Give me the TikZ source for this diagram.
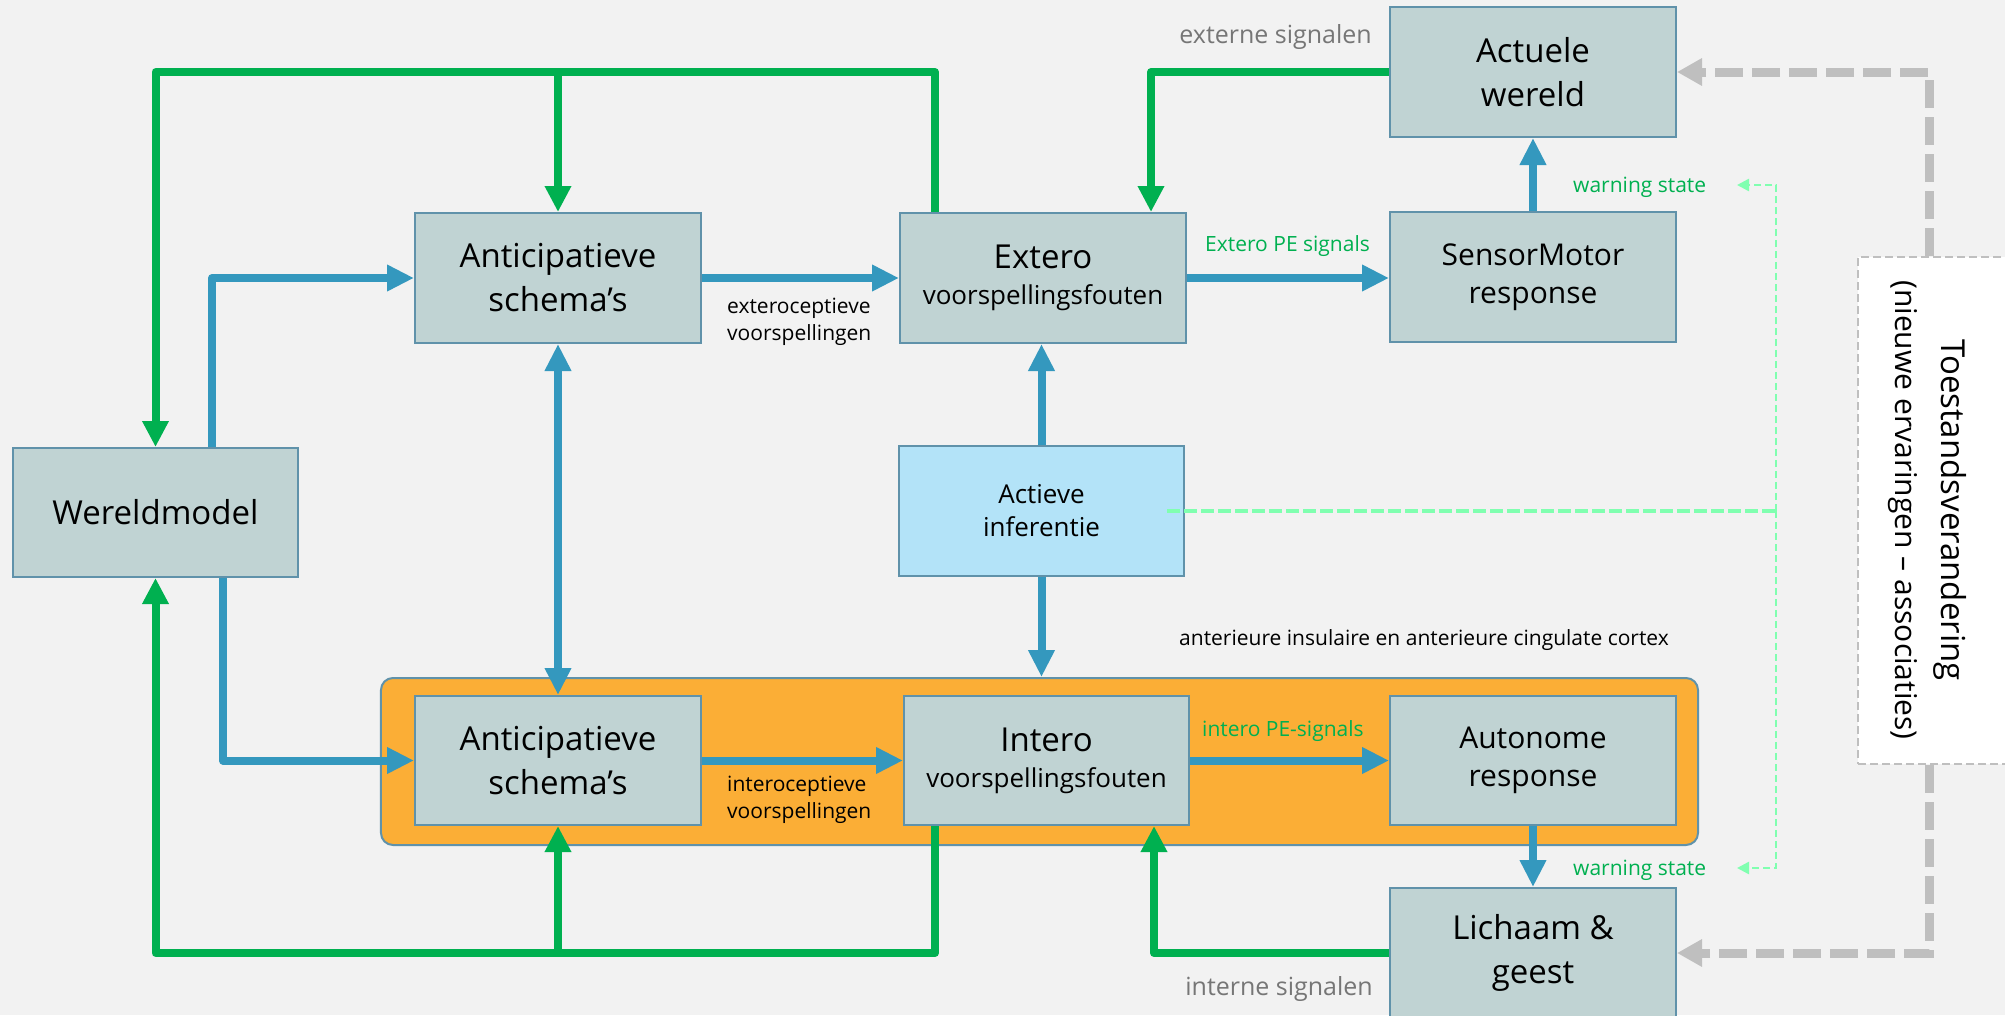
\documentclass[tikz,border=0pt]{standalone}
\usepackage{fontspec}
\setmainfont{Open Sans}
\usetikzlibrary{arrows.meta,calc}

\definecolor{cBg}{RGB}{242,242,242}
\definecolor{cBoxFill}{RGB}{192,211,211}
\definecolor{cBoxLine}{RGB}{96,146,170}
\definecolor{cAiFill}{RGB}{179,227,248}
\definecolor{cOrange}{RGB}{251,174,54}
\definecolor{cGreen}{RGB}{0,176,80}
\definecolor{cBlue}{RGB}{52,152,190}
\definecolor{cGrayLine}{RGB}{191,191,191}
\definecolor{cLightGreen}{RGB}{128,255,176}
\definecolor{cGrayText}{RGB}{118,118,118}

\newcommand{\FBig}{\fontsize{33bp}{44bp}\selectfont}
\newcommand{\FMid}{\fontsize{30bp}{38bp}\selectfont}
\newcommand{\FErr}{\fontsize{26bp}{36bp}\selectfont}
\newcommand{\FAi}{\fontsize{26bp}{33bp}\selectfont}
\newcommand{\FLab}{\fontsize{21bp}{27bp}\selectfont}
\newcommand{\FSig}{\fontsize{25bp}{30bp}\selectfont}
\newcommand{\FToe}{\fontsize{30bp}{46bp}\selectfont}
\newcommand{\FToeBig}{\fontsize{33bp}{46bp}\selectfont}

\begin{document}
\begin{tikzpicture}[x=1bp,y=-1bp,
  box/.style={draw=cBoxLine, line width=2bp, fill=cBoxFill, minimum width=286bp,
    minimum height=130bp, inner sep=0pt, align=center, text=black},
  greenline/.style={draw=cGreen, line width=8bp, line join=round},
  blueline/.style={draw=cBlue, line width=8bp, line join=round},
  grayline/.style={draw=cGrayLine, line width=9bp, dash pattern=on 28bp off 9bp},
  lgthick/.style={draw=cLightGreen, line width=4bp, dash pattern=on 13bp off 4bp},
  lgthin/.style={draw=cLightGreen, line width=2.5bp, dash pattern=on 7bp off 4bp},
  gtip/.style={-{Triangle[length=26bp,width=25bp]}},
  btip/.style={-{Triangle[length=27bp,width=25bp]}},
  bbtip/.style={{Triangle[length=27bp,width=25bp]}-{Triangle[length=27bp,width=25bp]}},
  graytip/.style={-{Triangle[length=25bp,width=26bp]}},
  lgtip/.style={-{Triangle[length=12bp,width=12bp]}},
  lab/.style={font=\FLab, inner sep=0pt},
]
\path[use as bounding box, fill=cBg] (0,0) rectangle (2005,1015);
\clip (0,0) rectangle (2005,1015);

% orange region
\node[draw=cBoxLine, line width=2bp, fill=cOrange, rounded corners=12bp,
  minimum width=1317bp, minimum height=167bp, inner sep=0pt] (OR) at (1039.5,761.5) {};

% state change box
\node[draw=cGrayLine, line width=2bp, dash pattern=on 8bp off 4bp, fill=white,
  minimum width=172bp, minimum height=507bp, inner sep=0pt] (T) at (1944,510.5) {};
\node[rotate=-90, align=center, font=\FToe, inner sep=0pt] (Ttext) at (1927,510)
  {{\FToeBig Toestandsverandering}\\(nieuwe ervaringen – associaties)};

% boxes
\node[box, minimum width=285bp, minimum height=129bp, font=\FBig] (W) at (155.5,512.5) {Wereldmodel};
\node[box, font=\FBig] (A1) at (558,278) {Anticipatieve\\schema’s};
\node[box, font=\FErr] (E) at (1043,278) {{\FBig Extero}\\voorspellingsfouten};
\node[box, font=\FBig] (AW) at (1533,72) {Actuele\\wereld};
\node[box, font=\FMid] (SM) at (1533,277) {SensorMotor\\response};
\node[box, fill=cAiFill, minimum width=285bp, font=\FAi] (AI) at (1041.5,511) {Actieve\\inferentie};
\node[box, minimum height=129bp, font=\FBig] (A2) at (558,760.5) {Anticipatieve\\schema’s};
\node[box, minimum width=285bp, minimum height=129bp, font=\FErr] (I) at (1046.5,760.5) {{\FBig Intero}\\voorspellingsfouten};
\node[box, minimum height=129bp, font=\FMid] (AR) at (1533,760.5) {Autonome\\response};
\node[box, font=\FBig] (L) at (1533,953) {Lichaam \&\\geest};

% labels
\node[lab, font=\FSig, text=cGrayText, anchor=base east] (lext) at (1372,43) {externe signalen};
\node[lab, text=cGreen, anchor=base west] (lepe) at (1205,251) {Extero PE signals};
\node[lab, text=cGreen, anchor=base west] (ws1) at (1573,192) {warning state};
\node[lab, anchor=base west] (lexa) at (727,313) {exteroceptieve};
\node[lab, anchor=base west] (lexb) at (727,340) {voorspellingen};
\node[lab, anchor=base west] (lina) at (727,791) {interoceptieve};
\node[lab, anchor=base west] (linb) at (727,818) {voorspellingen};
\node[lab, text=cGreen, anchor=base west] (lipe) at (1202,736) {intero PE-signals};
\node[lab, anchor=base west] (lacc) at (1179,645) {anterieure insulaire en anterieure cingulate cortex};
\node[lab, text=cGreen, anchor=base west] (ws2) at (1573,875) {warning state};
\node[lab, font=\FSig, text=cGrayText, anchor=base east] (lint) at (1373,995) {interne signalen};

% coordinates
\coordinate (topbar) at (0,72);
\coordinate (botbar) at (0,953);
\coordinate (eOut) at ([xshift=36bp]E.north west);
\coordinate (eIn) at ([xshift=252bp]E.north west);
\coordinate (iOut) at ([xshift=32bp]I.south west);
\coordinate (iIn) at ([xshift=251bp]I.south west);
\coordinate (wUp) at ([xshift=200bp]W.north west);
\coordinate (wDown) at ([xshift=211bp]W.south west);
\coordinate (tUp) at ([xshift=72bp]T.north west);
\coordinate (tDown) at ([xshift=72bp]T.south west);
\coordinate (lgStart) at ([xshift=-18bp]AI.east);
\coordinate (lgMid) at (1776,511);
\coordinate (ws1tip) at (1737,185);
\coordinate (ws2tip) at (1737,868);

% green connectors
\draw[greenline, gtip] (eOut) |- (topbar -| W.north) -- (W.north);
\draw[greenline, gtip] (topbar -| A1.north) -- (A1.north);
\draw[greenline, gtip] (AW.west) -| (eIn);
\draw[greenline, gtip] (iOut) |- (botbar -| W.south) -- (W.south);
\draw[greenline, gtip] (botbar -| A2.south) -- (A2.south);
\draw[greenline, gtip] (L.west) -| (iIn);

% blue connectors
\draw[blueline, btip] (wUp) |- (A1.west);
\draw[blueline, btip] (wDown) |- (A2.west);
\draw[blueline, btip] (A1.east) -- (E.west);
\draw[blueline, btip] (E.east) -- (E.east -| SM.west);
\draw[blueline, btip] (SM.north) -- (AW.south);
\draw[blueline, bbtip] (A1.south) -- (A2.north);
\draw[blueline, btip] (AI.north) -- (AI.north |- E.south);
\draw[blueline, btip] (AI.south) -- (AI.south |- OR.north);
\draw[blueline, btip] (A2.east) -- (I.west);
\draw[blueline, btip] (I.east) -- (I.east -| AR.west);
\draw[blueline, btip] (AR.south) -- (L.north);

% gray dashed connectors
\draw[grayline, graytip] (tUp) |- (AW.east);
\draw[grayline, graytip] (tDown) |- (L.east);

% light green dashed
\draw[lgthick] (lgStart) -- (lgMid);
\draw[lgthin, lgtip] (lgMid) |- (ws1tip);
\draw[lgthin, lgtip] (lgMid) |- (ws2tip);
\end{tikzpicture}
\end{document}
